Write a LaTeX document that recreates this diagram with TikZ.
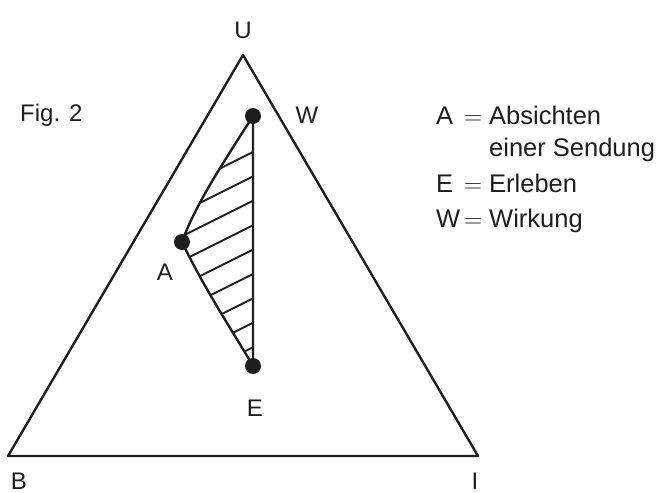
\documentclass[tikz,border=0pt]{standalone}
\usepackage{fontspec}
\setmainfont{Liberation Sans}
\usetikzlibrary{positioning, calc}
\definecolor{ink}{RGB}{30,30,30}
\tikzset{
  lbl/.style={font=\fontsize{24}{28}\selectfont, text=ink, inner sep=0pt, anchor=base},
  keytxt/.style={font=\fontsize{25.5}{30}\selectfont, text=ink, inner sep=0pt, anchor=base west},
  side/.style={draw=ink, line width=2.4pt, line join=round},
  hatch/.style={draw=ink, line width=1.9pt, line cap=round},
  blob/.style={circle, fill=ink, minimum size=16pt, inner sep=0pt},
}

\begin{document}
\begin{tikzpicture}[x=1pt, y=-1pt]
  \useasboundingbox (0,0) rectangle (662,493);

  % Dreieck
  \coordinate (cU) at (243,55);
  \coordinate (cB) at (8,456);
  \coordinate (cI) at (478,456);
  \draw[side] (cB) -- (cI) -- (cU) -- cycle;

  \node[lbl] (U) at (243,38)  {U};
  \node[lbl] (B) at (19,489)  {B};
  \node[lbl] (I) at (475,489) {I};
  \node[lbl, anchor=base west] (fig) at (20,121) {Fig. 2};

  % Punkte
  \coordinate (pW) at (253,116);
  \coordinate (pA) at (182,242);
  \coordinate (pE) at (253,366);

  \begin{scope}
    \clip (pW) .. controls (225,160) and (195,205) .. (pA)
               .. controls (205,290) and (235,335) .. (pE) -- cycle;
    \foreach \k in {0,...,8}
      \draw[hatch] (253,{152+24.4*\k}) -- ++(-110,55);
  \end{scope}
  \draw[side] (pW) .. controls (225,160) and (195,205) .. (pA)
              .. controls (205,290) and (235,335) .. (pE) -- cycle;

  \node[blob] (dW) at (pW) {};
  \node[blob] (dA) at (pA) {};
  \node[blob] (dE) at (pE) {};

  \node[lbl] (W) at (307,123) {W};
  \node[lbl] (A) at (165,280) {A};
  \node[lbl] (E) at (255,416) {E};

  % Legende
  \node[keytxt] (kA)   at (436,124) {A};
  \node[keytxt] (kAe)  at (464,124) {$=$};
  \node[keytxt] (kAt)  at (489,124) {Absichten};
  \node[keytxt] (kAt2) at (489,156) {einer Sendung};
  \node[keytxt] (kE)   at (436,192) {E};
  \node[keytxt] (kEe)  at (464,192) {$=$};
  \node[keytxt] (kEt)  at (489,192) {Erleben};
  \node[keytxt] (kW)   at (436,227) {W};
  \node[keytxt] (kWe)  at (464,227) {$=$};
  \node[keytxt] (kWt)  at (489,227) {Wirkung};
\end{tikzpicture}
\end{document}
